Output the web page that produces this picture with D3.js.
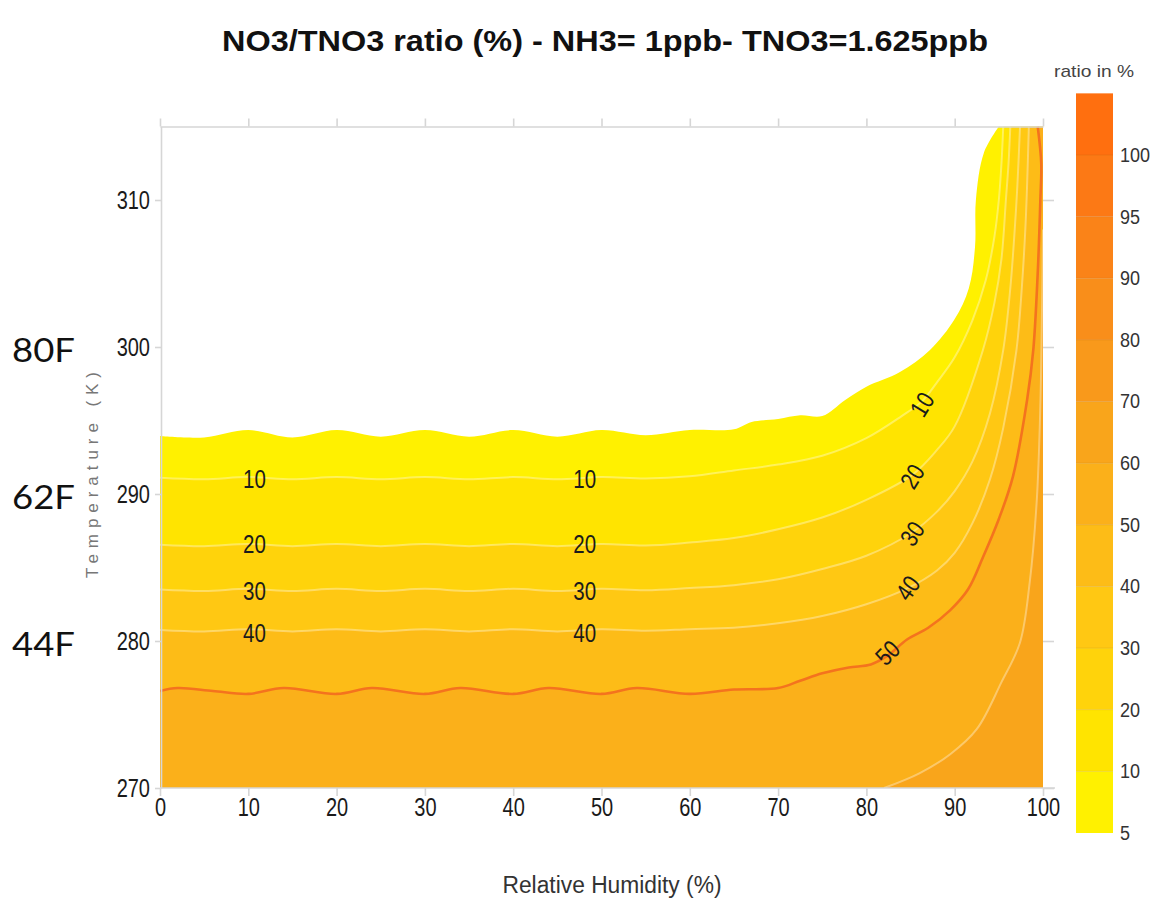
<!DOCTYPE html>
<html>
<head>
<meta charset="utf-8">
<script src="https://cdn.jsdelivr.net/npm/d3@7"></script>
<style>
  body { margin: 0; background: #fff; }
  .narrow { font-family: "Liberation Sans Narrow", "Liberation Sans", Arial, sans-serif; }
</style>
</head>
<body>
<div id="chart"></div>
<script>
// ---- data ----
var rhTicks   = [0, 10, 20, 30, 40, 50, 60, 70, 80, 90, 100];
var tempTicks = [270, 280, 290, 300, 310];

// contour levels (%) and their lines as [RH %, T K]
var contourLevels = [5, 10, 20, 30, 40, 50, 60];

var contour5  = [[0,293.95],[5,293.85],[10,294.35],[15,293.85],[20,294.35],[25,293.9],[30,294.35],[35,293.9],
                 [40,294.35],[45,293.9],[50,294.35],[55,294.0],[60,294.35],[65,294.4],[67,294.9],[70,295.1],
                 [72.5,295.35],[75,295.3],[77.6,296.4],[80,297.3],[83.8,298.3],[87.2,299.8],[90,301.9],
                 [91.6,304.0],[92.3,306.8],[92.4,310],[93.3,313.2],[95.0,315]];
var contour10 = [[0,291.1],[5,291.0],[10,291.15],[15,291.0],[20,291.15],[25,291.0],[30,291.15],[35,291.0],
                 [40,291.15],[45,291.0],[50,291.15],[55,291.05],[60,291.2],[65,291.6],[70,292.0],[75,292.6],
                 [80,293.8],[84,295.3],[86.3,296.3],[88,297.6],[90,299.3],[92,301.8],[93.5,304.5],
                 [94.5,307.5],[95,310],[95.3,312.5],[95.5,315]];
var contour20 = [[0,286.55],[5,286.45],[10,286.6],[15,286.45],[20,286.6],[25,286.45],[30,286.6],[35,286.45],
                 [40,286.6],[45,286.45],[50,286.6],[55,286.5],[60,286.7],[65,287.0],[70,287.6],[75,288.4],
                 [80,289.6],[85.2,291.3],[88,293.0],[90,294.6],[93.2,299.8],[94.5,303],[95.3,306],
                 [95.8,310],[96.1,312.5],[96.3,315]];
var contour30 = [[0,283.5],[5,283.4],[10,283.55],[15,283.4],[20,283.55],[25,283.4],[30,283.55],[35,283.4],
                 [40,283.55],[45,283.4],[50,283.55],[55,283.45],[60,283.6],[65,283.8],[70,284.2],[75,284.9],
                 [80,285.8],[85.2,287.4],[88,288.8],[90,290.2],[92,292.2],[94,295.5],[95.5,299.8],
                 [96.3,304],[96.8,308],[97.1,311],[97.4,315]];
var contour40 = [[0,280.75],[5,280.65],[10,280.8],[15,280.65],[20,280.8],[25,280.65],[30,280.8],[35,280.65],
                 [40,280.8],[45,280.65],[50,280.8],[55,280.7],[60,280.8],[65,280.9],[70,281.2],[75,281.7],
                 [80,282.5],[84.7,283.6],[88,284.8],[90,286.0],[92,288],[94,291],[95.5,294.5],[97,299.8],
                 [97.6,304],[98,308],[98.2,311],[98.4,315]];
var contour50 = [[0,276.6],[2,276.8],[6,276.6],[10,276.4],[14,276.8],[20,276.4],[24,276.8],[30,276.4],
                 [34,276.8],[40,276.4],[44,276.8],[50,276.4],[54,276.8],[60,276.4],[65,276.7],[70,276.8],
                 [72.5,277.3],[75,277.8],[78,278.2],[80.5,278.4],[82.4,279.0],[84.6,280.1],[87,280.9],
                 [89.5,282.1],[91.5,283.5],[93.2,285.7],[95,288.3],[96.6,291.2],[98.2,296.4],[98.9,299.8],
                 [99.4,305],[99.7,310],[99.8,312.5],[99.4,315]];
var contour60 = [[82,270],[86,271.0],[89.5,272.3],[92.5,274],[95.3,277.2],[97.4,279.9],[98.5,284],
                 [99.3,289.6],[99.7,296],[99.9,303],[100,308]];

var contours = [contour5, contour10, contour20, contour30, contour40, contour50, contour60];

// colour of the band above each contour level
var bandColours = ['#FFF100', '#FFE400', '#FFD30B', '#FFC813', '#FDBC17', '#FBB01A', '#F9A51B'];

// colour bar
var scaleLevels  = [5, 10, 20, 30, 40, 50, 60, 70, 80, 90, 95, 100];
var scaleColours = ['#FFF100', '#FFE400', '#FFD30B', '#FFC813', '#FDBC17', '#FBB01A', '#F9A51B',
                    '#F9991B', '#F98E1A', '#FA8318', '#FC7915', '#FF6F0F'];

// contour labels
var labelText      = ['10', '20', '30', '40'];
var labelTempLeft  = [291.0, 286.6, 283.4, 280.5];
var labelRhLeft    = [10.7, 48.1];
var rightLabelText = ['10', '20', '30', '40', '50'];
var rightLabelRh   = [86.3, 85.2, 85.2, 84.7, 82.4];
var rightLabelTemp = [296.1, 291.2, 287.3, 283.6, 279.2];

// Fahrenheit notes on the left
var fahrenheitText = ['80F', '62F', '44F'];
var fahrenheitTemp = [300, 290, 280];

// ---- drawing ----
var W = 1153, H = 899;
var plot = { left: 160, right: 1043, top: 126.5, bottom: 788 };

var svg = d3.select('#chart').append('svg')
            .attr('width', W)
            .attr('height', H)
            .style('background', '#fff');

var xScale = d3.scaleLinear().domain([0, 100]).range([plot.left, plot.right]);
var yScale = d3.scaleLinear().domain([270, 315]).range([plot.bottom, plot.top]);

svg.append('clipPath').attr('id', 'plotClip')
   .append('rect')
   .attr('x', plot.left).attr('y', plot.top)
   .attr('width', plot.right - plot.left).attr('height', plot.bottom - plot.top);

var line = d3.line()
             .x(function (d) { return xScale(d[0]); })
             .y(function (d) { return yScale(d[1]); })
             .curve(d3.curveCatmullRom);

var corners = [[100, 315], [100, 270], [0, 270]];

var field = svg.append('g').attr('clip-path', 'url(#plotClip)');

// filled regions, lowest level first
contours.forEach(function (c, i)
{
    var p = line(c);
    corners.forEach(function (k) { p += 'L' + xScale(k[0]) + ',' + yScale(k[1]); });
    field.append('path')
         .attr('d', p + 'Z')
         .attr('fill', bandColours[i]);
});

// contour lines (not the outer 5% edge)
contours.forEach(function (c, i)
{
    if (contourLevels[i] == 5) return;
    var is50 = contourLevels[i] == 50;
    field.append('path')
         .attr('d', line(c))
         .attr('fill', 'none')
         .attr('stroke', is50 ? '#F4731E' : 'rgba(255,255,255,0.35)')
         .attr('stroke-width', is50 ? 2.6 : 2);
});

// squeeze text horizontally, the picture uses a narrow face
function condense (sel, f)
{
    sel.each(function ()
    {
        var w = this.getComputedTextLength();
        d3.select(this).attr('textLength', w * f).attr('lengthAdjust', 'spacingAndGlyphs');
    });
}

// axes
var gridCol = '#d6d6d6';

function styleAxis (g)
{
    g.selectAll('path, line').attr('stroke', gridCol).attr('stroke-width', 1.6);
    g.selectAll('text')
     .attr('class', 'narrow')
     .attr('font-size', '25px')
     .attr('fill', '#1a1a1a')
     .call(condense, 0.8);
}

svg.append('g')
   .attr('transform', 'translate(0,' + plot.bottom + ')')
   .call(d3.axisBottom(xScale).tickValues(rhTicks).tickSize(8).tickSizeOuter(0).tickPadding(2))
   .call(styleAxis)
   .call(function (g) { g.select('.domain').attr('d', 'M' + plot.left + ',0H' + (plot.right + 12)); });

svg.append('g')
   .attr('transform', 'translate(0,' + plot.top + ')')
   .call(d3.axisTop(xScale).tickValues(rhTicks).tickSize(8).tickSizeOuter(0).tickFormat(''))
   .call(function (g) { g.selectAll('path, line').attr('stroke', gridCol).attr('stroke-width', 1.6); });

svg.append('g')
   .attr('transform', 'translate(' + (plot.left + 1) + ',0)')
   .call(d3.axisLeft(yScale).tickValues(tempTicks).tickSize(6).tickSizeOuter(0).tickPadding(5))
   .call(styleAxis);

svg.append('g')
   .attr('transform', 'translate(' + plot.right + ',0)')
   .call(d3.axisRight(yScale).tickValues(tempTicks).tickSize(11).tickFormat(''))
   .call(function (g)
   {
       g.select('.domain').remove();
       g.selectAll('line').attr('stroke', gridCol).attr('stroke-width', 1.6);
   });

// contour labels
var labels = svg.append('g')
                .attr('class', 'narrow')
                .attr('font-size', '25px')
                .attr('fill', '#1b1b1b')
                .attr('text-anchor', 'middle');

labelRhLeft.forEach(function (rh)
{
    labelText.forEach(function (t, i)
    {
        labels.append('text')
              .attr('x', xScale(rh))
              .attr('y', yScale(labelTempLeft[i]))
              .attr('dy', '0.35em')
              .text(t);
    });
});

var rightAngles = [-58, -58, -56, -55, -45];
rightLabelText.forEach(function (t, i)
{
    var px = xScale(rightLabelRh[i]), py = yScale(rightLabelTemp[i]);
    labels.append('text')
          .attr('transform', 'translate(' + px + ',' + py + ') rotate(' + rightAngles[i] + ')')
          .attr('dy', '0.35em')
          .text(t);
});
labels.selectAll('text').call(condense, 0.82);

// colour bar
var cb = d3.scaleLinear().domain([0, 11]).range([833, 155]);
var cbX = 1076, cbW = 37;

var bar = svg.append('g');
scaleColours.forEach(function (c, i)
{
    bar.append('rect')
       .attr('x', cbX)
       .attr('y', cb(i + 1))
       .attr('width', cbW)
       .attr('height', cb(i) - cb(i + 1))
       .attr('fill', c);
    if (i > 0)
        bar.append('line')
           .attr('x1', cbX).attr('x2', cbX + cbW)
           .attr('y1', cb(i)).attr('y2', cb(i))
           .attr('stroke', 'rgba(120,80,0,0.12)');
});

svg.append('g')
   .attr('transform', 'translate(' + (cbX + cbW) + ',0)')
   .call(d3.axisRight(cb).tickValues(d3.range(scaleLevels.length))
           .tickFormat(function (d) { return scaleLevels[d]; })
           .tickSize(0).tickPadding(7))
   .call(function (g)
   {
       g.select('.domain').remove();
       g.selectAll('text').attr('class', 'narrow').attr('font-size', '20px').attr('fill', '#333')
        .call(condense, 0.9);
   });

svg.append('text')
   .attr('x', 1094).attr('y', 77)
   .attr('text-anchor', 'middle')
   .attr('class', 'narrow')
   .attr('font-size', '17px')
   .attr('fill', '#444')
   .attr('textLength', 80)
   .attr('lengthAdjust', 'spacingAndGlyphs')
   .text('ratio in %');

// titles
svg.append('text')
   .attr('x', 605).attr('y', 51)
   .attr('text-anchor', 'middle')
   .attr('font-family', 'Liberation Sans, Arial, sans-serif')
   .attr('font-weight', 'bold')
   .attr('font-size', '30px')
   .attr('fill', '#111')
   .attr('textLength', 766)
   .attr('lengthAdjust', 'spacingAndGlyphs')
   .text('NO3/TNO3 ratio (%) - NH3= 1ppb- TNO3=1.625ppb');

svg.append('text')
   .attr('x', 612).attr('y', 893)
   .attr('text-anchor', 'middle')
   .attr('class', 'narrow')
   .attr('font-size', '23px')
   .attr('fill', '#333')
   .attr('textLength', 219)
   .attr('lengthAdjust', 'spacingAndGlyphs')
   .text('Relative Humidity (%)');

svg.append('text')
   .attr('transform', 'translate(98,475) rotate(-90)')
   .attr('text-anchor', 'middle')
   .attr('font-family', 'Liberation Sans, Arial, sans-serif')
   .attr('font-size', '17px')
   .attr('fill', '#777')
   .attr('textLength', 206)
   .text('Temperature (K)');

fahrenheitText.forEach(function (t, i)
{
    svg.append('text')
       .attr('x', 12)
       .attr('y', yScale(fahrenheitTemp[i]) + 4)
       .attr('dy', '0.35em')
       .attr('font-family', 'Lato, "Open Sans", sans-serif')
       .attr('font-size', '32px')
       .attr('fill', '#111')
       .attr('textLength', 63)
       .attr('lengthAdjust', 'spacingAndGlyphs')
       .text(t);
});
</script>
</body>
</html>
